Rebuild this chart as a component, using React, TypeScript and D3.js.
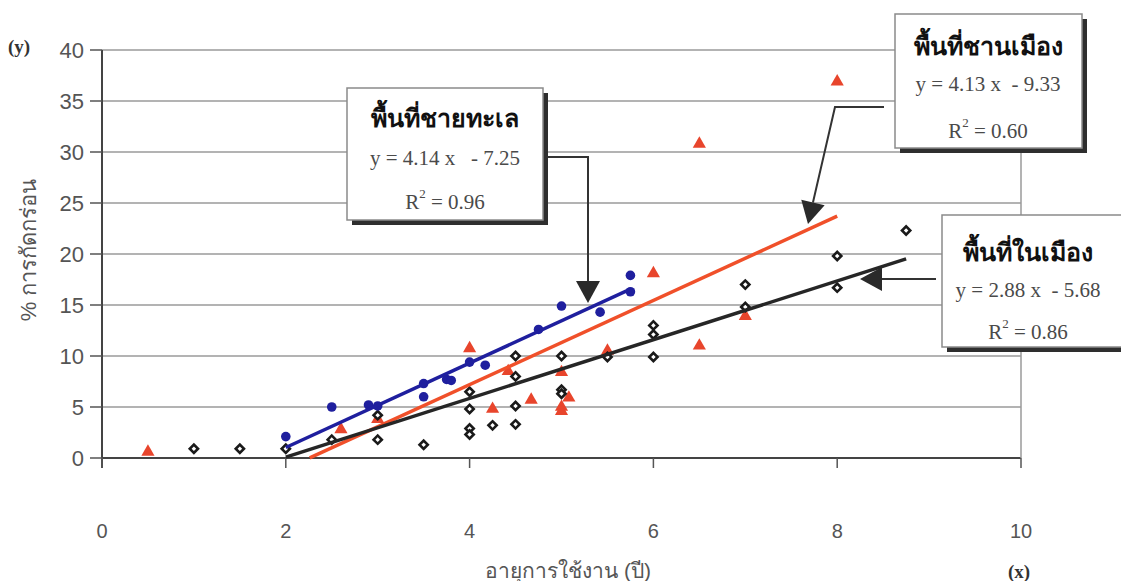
import * as d3 from "d3";
import React from "react";

// ---- data ----
// coastal (ชายทะเล) – blue circles
const coastalX = [2.0, 2.5, 2.9, 3.0, 3.5, 3.5, 3.75, 3.8, 4.0, 4.17, 4.75, 5.0, 5.42, 5.75, 5.75];
const coastalY = [2.1, 5.0, 5.2, 5.1, 7.3, 6.0, 7.7, 7.6, 9.4, 9.1, 12.6, 14.9, 14.3, 17.9, 16.3];

// suburban (ชานเมือง) – red triangles
const suburbX = [0.5, 2.6, 3.0, 4.0, 4.25, 4.42, 4.67, 5.0, 5.08, 5.0, 5.0, 5.5, 6.0, 6.5, 6.5, 7.0, 8.0];
const suburbY = [0.6, 2.8, 3.8, 10.75, 4.8, 8.5, 5.7, 8.4, 5.9, 5.0, 4.6, 10.5, 18.1, 11.0, 30.8, 13.9, 36.9];

// urban (ในเมือง) – black open diamonds
const urbanX = [1.0, 1.5, 2.0, 2.5, 3.0, 3.0, 3.5, 4.0, 4.0, 4.0, 4.0, 4.25, 4.5, 4.5, 4.5, 4.5, 5.0, 5.0, 5.0, 5.5, 6.0, 6.0, 6.0, 7.0, 7.0, 8.0, 8.0, 8.75];
const urbanY = [0.9, 0.9, 0.9, 1.8, 1.8, 4.2, 1.3, 6.5, 4.8, 2.9, 2.3, 3.2, 10.0, 8.0, 5.1, 3.3, 10.0, 6.7, 6.3, 9.9, 13.0, 12.1, 9.9, 17.0, 14.8, 19.8, 16.7, 22.3];

// trendlines (slope, intercept, x range)
const trendSlope = [4.14, 4.13, 2.88];
const trendIntercept = [-7.25, -9.33, -5.68];
const trendFrom = [2.0, 2.26, 2.0];
const trendTo = [5.75, 8.0, 8.75];
const trendColor = ["#1f1f9e", "#f0502a", "#262626"];

const xTicks = [0, 2, 4, 6, 8, 10];
const yTicks = [0, 5, 10, 15, 20, 25, 30, 35, 40];

const labels = [
  { title: "พื้นที่ชายทะเล", eq: "y = 4.14 x   - 7.25", r2: "0.96" },
  { title: "พื้นที่ชานเมือง", eq: "y = 4.13 x  - 9.33", r2: "0.60" },
  { title: "พื้นที่ในเมือง", eq: "y = 2.88 x  - 5.68", r2: "0.86" },
];

const W = 1121;
const H = 581;

const x = d3.scaleLinear().domain([0, 10]).range([102, 1021]);
const y = d3.scaleLinear().domain([0, 40]).range([458, 50]);

const SANS = "'Liberation Sans', Arial, sans-serif";
const SERIF = "'Liberation Serif', 'Times New Roman', serif";

const triangle = d3.symbol().type(d3.symbolTriangle).size(75)();
const diamond = d3.symbol().type(d3.symbolSquare).size(34)();

const line = d3
  .line<number>()
  .x((d) => x(d[0]))
  .y((d) => y(d[1]));

// annotation box with shadow
const Box = ({ x0, y0, w, h, i, cx, tY, eY, rY }) => (
  <g>
    <rect x={x0 + 5} y={y0 + 5} width={w} height={h} fill="#2e2e2e" />
    <rect x={x0} y={y0} width={w} height={h} fill="#fff" stroke="#8a8a8a" strokeWidth={1.5} />
    <text x={cx} y={tY} textAnchor="middle" fontFamily={SERIF} fontWeight="bold" fontSize={25} fill="#111">
      {labels[i].title}
    </text>
    <text x={cx} y={eY} textAnchor="middle" fontFamily={SERIF} fontSize={21} fill="#4a4a4a" style={{ whiteSpace: "pre" }}>
      {labels[i].eq}
    </text>
    <text x={cx} y={rY} textAnchor="middle" fontFamily={SERIF} fontSize={21} fill="#4a4a4a">
      R<tspan fontSize={13} dy={-11}>2</tspan>
      <tspan dy={11}>{" = " + labels[i].r2}</tspan>
    </text>
  </g>
);

const Arrow = ({ pts }) => {
  const last = pts[pts.length - 1];
  const prev = pts[pts.length - 2];
  const ang = Math.atan2(last[1] - prev[1], last[0] - prev[0]);
  const L = 22;
  const Wd = 12;
  const bx = last[0] - L * Math.cos(ang);
  const by = last[1] - L * Math.sin(ang);
  const p1 = [bx + Wd * Math.sin(ang), by - Wd * Math.cos(ang)];
  const p2 = [bx - Wd * Math.sin(ang), by + Wd * Math.cos(ang)];
  const shaft = [...pts.slice(0, -1), [bx, by]];
  return (
    <g>
      <path d={d3.line()(shaft as any)} fill="none" stroke="#333" strokeWidth={2} />
      <path d={`M${last[0]},${last[1]}L${p1[0]},${p1[1]}L${p2[0]},${p2[1]}Z`} fill="#2a2a2a" />
    </g>
  );
};

export default function App() {
  return (
    <svg width={W} height={H} style={{ position: "absolute", left: 0, top: 0, background: "#fff" }}>
      {/* grid */}
      {yTicks.map((t) => (
        <line key={"g" + t} x1={x(0)} x2={x(10)} y1={y(t)} y2={y(t)} stroke={t === 0 ? "#444" : "#9a9a9a"} strokeWidth={t === 0 ? 2 : 1.5} />
      ))}
      <line x1={x(10)} x2={x(10)} y1={y(40)} y2={y(0)} stroke="#9a9a9a" strokeWidth={1.5} />
      <line x1={x(0)} x2={x(0)} y1={y(40)} y2={y(0) + 10} stroke="#444" strokeWidth={2} />
      {yTicks.map((t) => (
        <line key={"yt" + t} x1={x(0) - 12} x2={x(0)} y1={y(t)} y2={y(t)} stroke="#555" strokeWidth={1.5} />
      ))}
      {xTicks.map((t) => (
        <line key={"xt" + t} x1={x(t)} x2={x(t)} y1={y(0)} y2={y(0) + 10} stroke="#555" strokeWidth={1.5} />
      ))}

      {/* tick labels */}
      {yTicks.map((t) => (
        <text key={"yl" + t} x={x(0) - 18} y={y(t) + 8} textAnchor="end" fontFamily={SANS} fontSize={22} fill="#555">
          {t}
        </text>
      ))}
      {xTicks.map((t) => (
        <text key={"xl" + t} x={x(t)} y={538} textAnchor="middle" fontFamily={SANS} fontSize={20} fill="#555">
          {t}
        </text>
      ))}

      {/* axis titles */}
      <text x={568} y={578} textAnchor="middle" fontFamily={SANS} fontSize={21} fill="#555">
        อายุการใช้งาน (ปี)
      </text>
      <text transform="translate(36,250) rotate(-90)" textAnchor="middle" fontFamily={SANS} fontSize={22} fill="#555">
        % การกัดกร่อน
      </text>
      <text x={8} y={53} fontFamily={SERIF} fontWeight="bold" fontSize={19} fill="#333">(y)</text>
      <text x={1008} y={578} fontFamily={SERIF} fontWeight="bold" fontSize={19} fill="#333">(x)</text>

      {/* points */}
      {suburbX.map((v, i) => (
        <path key={"s" + i} d={triangle} transform={`translate(${x(v)},${y(suburbY[i])})`} fill="#e8452c" />
      ))}
      {urbanX.map((v, i) => (
        <path key={"u" + i} d={diamond} transform={`translate(${x(v)},${y(urbanY[i])}) rotate(45)`} fill="#fff" stroke="#1a1a1a" strokeWidth={2.6} />
      ))}
      {coastalX.map((v, i) => (
        <circle key={"c" + i} cx={x(v)} cy={y(coastalY[i])} r={4.8} fill="#1f1f9e" />
      ))}

      {/* trendlines */}
      {trendSlope.map((m, i) => {
        const pts = [trendFrom[i], trendTo[i]].map((xv) => [xv, Math.max(0, m * xv + trendIntercept[i])]);
        return <path key={"t" + i} d={line(pts as any) || ""} fill="none" stroke={trendColor[i]} strokeWidth={3.5} />;
      })}

      {/* callouts */}
      <Arrow pts={[[543, 157], [588, 157], [588, 303]]} />
      <Arrow pts={[[884, 107], [835, 107], [808, 224]]} />
      <Arrow pts={[[936, 279], [860, 279]]} />

      <Box x0={347} y0={88} w={196} h={132} i={0} cx={445} tY={127} eY={165} rY={209} />
      <Box x0={895} y0={14} w={187} h={134} i={1} cx={988} tY={55} eY={91} rY={138} />
      <Box x0={942} y0={215} w={200} h={132} i={2} cx={1028} tY={261} eY={297} rY={339} />
    </svg>
  );
}
